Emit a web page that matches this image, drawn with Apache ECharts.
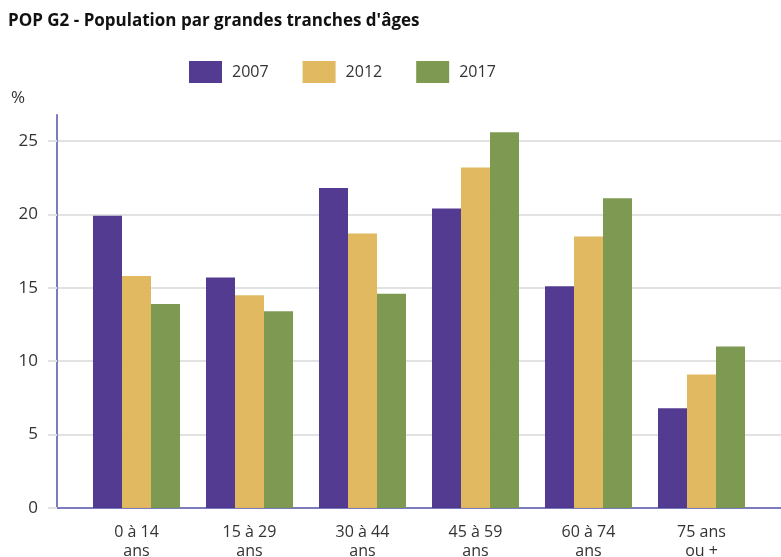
<!DOCTYPE html>
<html>
<head>
<meta charset="UTF-8">
<title>POP G2</title>
<style>
  *{padding:0;margin:0;}
  body{background:#fff;}
  #chart{width:781px;height:557px;}
</style>
</head>
<body>
<div id="chart"></div>
<script src="https://cdn.jsdelivr.net/npm/echarts@6/dist/echarts.min.js"></script>
<script>
var categories = ["0 à 14\nans", "15 à 29\nans", "30 à 44\nans", "45 à 59\nans", "60 à 74\nans", "75 ans\nou +"];
var years = ["2007", "2012", "2017"];
var v2007 = [19.9, 15.7, 21.8, 20.4, 15.1, 6.8];
var v2012 = [15.8, 14.5, 18.7, 23.2, 18.5, 9.1];
var v2017 = [13.9, 13.4, 14.6, 25.6, 21.1, 11.0];
var yTicks = [0, 5, 10, 15, 20, 25];

var colors = ["#4b338c", "#dfb659", "#79964b"];
var axisColor = "#7c7cbc";
var font = "Open Sans";

// echelle commune : 0..25 entre y=508 et y=141
var pxPerUnit = (508 - 141) / 25;
var mainMax = (508 - 115) / pxPerUnit;

var chart = echarts.init(document.getElementById("chart"));

function bar(name, data, i){
  return {
    name: name,
    type: "bar",
    xAxisIndex: 1,
    yAxisIndex: 1,
    barGap: "0%",
    barCategoryGap: "23%",
    itemStyle: {color: colors[i], opacity: 0.96},
    data: data
  };
}

var option = {
  animation: false,
  color: colors,
  title: {
    text: "POP G2 - Population par grandes tranches d'âges",
    left: 8,
    top: 13,
    padding: 0,
    textStyle: {fontFamily: font, fontWeight: "bold", fontSize: 17, color: "#111"}
  },
  legend: {
    data: years,
    left: 189,
    top: 61,
    padding: 0,
    itemWidth: 33,
    itemHeight: 22,
    itemGap: 34,
    icon: "rect",
    textStyle: {fontFamily: font, fontSize: 16, color: "#333", padding: [0, 0, 0, 5]}
  },
  grid: [
    {left: 57, right: 0, top: 141, bottom: 49, outerBoundsMode: "none"},
    {left: 80, right: 23, top: 115, bottom: 49, outerBoundsMode: "none"}
  ],
  xAxis: [
    {
      gridIndex: 0,
      type: "category",
      data: categories,
      axisLine: {show: true, lineStyle: {color: axisColor, width: 2}},
      axisTick: {show: false},
      axisLabel: {show: false},
      splitLine: {show: false}
    },
    {
      gridIndex: 1,
      type: "category",
      data: categories,
      axisLine: {show: false},
      axisTick: {show: false},
      axisLabel: {
        margin: 15,
        lineHeight: 19,
        fontFamily: font,
        fontSize: 16,
        color: "#333"
      }
    }
  ],
  yAxis: [
    {
      gridIndex: 0,
      type: "value",
      min: yTicks[0],
      max: yTicks[yTicks.length - 1],
      interval: 5,
      axisLine: {show: false},
      axisTick: {show: true, length: 9, lineStyle: {color: "#e2e2e2", width: 2}},
      axisLabel: {margin: 19, fontFamily: font, fontSize: 17, color: "#333"},
      splitLine: {show: true, lineStyle: {color: "#e2e2e2", width: 2}}
    },
    {
      gridIndex: 1,
      type: "value",
      min: 0,
      max: mainMax,
      offset: 23,
      name: "%",
      nameLocation: "end",
      nameGap: 8,
      nameTextStyle: {align: "right", padding: [0, 32, 0, 0], fontFamily: font, fontSize: 17, color: "#333"},
      axisLine: {show: true, lineStyle: {color: axisColor, width: 2}},
      axisTick: {show: false},
      axisLabel: {show: false},
      splitLine: {show: false}
    }
  ],
  series: [
    bar(years[0], v2007, 0),
    bar(years[1], v2012, 1),
    bar(years[2], v2017, 2)
  ]
};

chart.setOption(option);
</script>
</body>
</html>
